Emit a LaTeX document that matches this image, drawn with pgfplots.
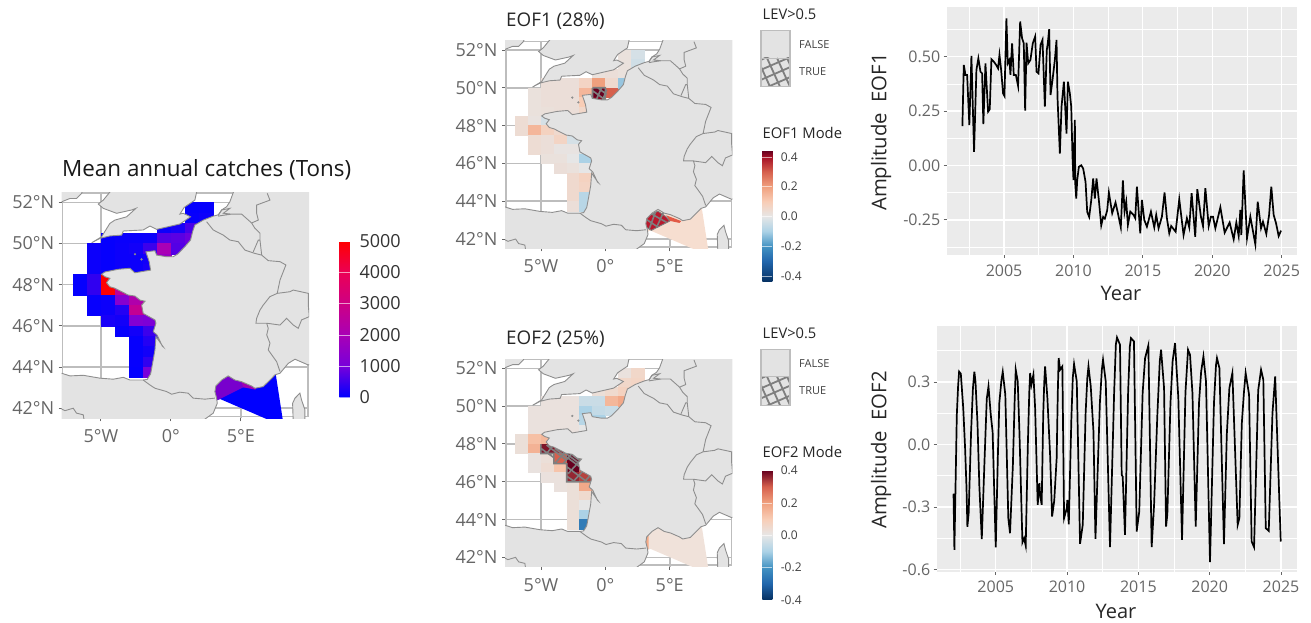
\documentclass[border=0pt]{standalone}
\usepackage{pgfplots}
\usepackage{pgfplotstable}
\usepackage{fontspec}
\setmainfont{Open Sans}
\pgfplotsset{compat=1.18}
\definecolor{landc}{HTML}{E3E3E3}
\definecolor{coast}{HTML}{8E8E8E}
\definecolor{gratic}{HTML}{BDBDBD}
\definecolor{tickc}{HTML}{666666}
\definecolor{hatchc}{HTML}{7F7F7F}
\definecolor{ggbg}{HTML}{EBEBEB}
\pgfplotstableread{
lon lat
-8.3 41.2
-8.3 43.70
-7.81 43.70
-7.21 43.57
-6.26 43.60
-5.07 43.46
-4.12 43.41
-3.40 43.50
-2.93 43.37
-1.98 43.37
-1.69 43.40
-1.45 43.67
-1.31 44.18
-1.14 44.83
-1.07 45.48
-0.55 44.98
-0.62 45.02
-0.98 45.55
-1.26 45.72
-1.07 46.13
-1.14 46.29
-1.98 46.61
-2.09 47.01
-1.85 47.20
-2.20 47.25
-2.57 47.45
-3.05 47.50
-4.00 47.83
-4.36 47.90
-4.60 48.10
-4.36 48.31
-4.71 48.39
-4.95 48.51
-4.71 48.62
-3.76 48.75
-2.93 48.80
-2.57 48.58
-1.45 48.71
-1.55 49.12
-1.79 49.60
-1.14 49.65
-1.02 49.44
-0.31 49.36
0.16 49.36
0.48 49.49
1.00 49.85
1.40 50.17
1.55 50.58
1.71 50.90
2.31 51.14
3.02 51.33
3.40 51.40
3.62 51.63
3.98 51.79
4.21 52.03
4.57 52.70
10.3 52.70
10.3 44.25
9.81 44.10
8.86 44.38
8.38 44.18
7.79 43.70
7.43 43.62
7.07 43.37
6.59 43.05
6.00 42.97
5.76 43.08
5.05 43.29
4.57 43.37
4.09 43.57
3.62 43.37
3.21 43.08
3.14 42.81
3.26 42.49
3.31 42.24
3.02 41.76
2.43 41.47
2.10 41.20
-8.3 41.2
}\tblMain
\pgfplotstableread{
lon lat
-5.66 50.04
-5.07 50.25
-4.36 50.37
-3.52 50.41
-3.40 50.61
-1.98 50.66
-1.50 50.85
-1.02 50.69
0.64 50.95
1.40 51.30
0.88 51.47
0.64 51.43
0.95 51.76
1.36 51.95
1.71 52.11
1.83 52.49
1.90 52.70
-4.12 52.70
-4.83 52.11
-5.19 51.92
-4.83 51.71
-3.88 51.47
-2.81 51.63
-2.50 51.71
-3.16 51.30
-4.00 51.14
-4.36 50.98
-4.95 50.33
-5.66 50.04
}\tblEngland
\pgfplotstableread{
lon lat
-8.3 52.70
-8.3 52.03
-7.80 52.03
-7.21 52.19
-6.74 52.19
-6.38 52.44
-6.20 52.70
-8.3 52.70
}\tblIreland
\pgfplotstableread{
lon lat
8.74 41.20
8.69 42.24
8.86 42.49
9.21 42.73
9.33 42.40
9.57 41.92
9.57 41.20
8.74 41.20
}\tblCorsica
\pgfplotstableread{
lon lat
2.55 51.06
3.02 50.66
3.74 50.41
4.21 50.17
4.81 50.09
5.29 49.68
6.00 49.52
6.48 49.44
6.95 49.17
7.79 49.12
8.21 48.96
7.79 48.23
7.59 47.58
7.07 47.42
6.59 47.01
6.36 46.77
6.12 46.37
6.07 46.13
6.84 46.13
6.95 45.88
6.84 45.56
7.07 45.16
6.95 44.83
7.55 44.26
7.79 43.78
nan nan
6.84 46.13
7.79 46.04
8.26 46.37
8.74 46.04
9.09 45.88
9.33 46.29
9.88 46.45
9.81 47.01
9.81 47.58
8.74 47.74
8.50 47.66
7.59 47.58
nan nan
3.38 51.33
4.21 51.43
5.05 51.43
5.76 51.00
6.00 50.74
6.36 50.50
6.36 50.17
6.24 50.17
5.88 49.60
nan nan
6.36 50.17
6.48 49.44
nan nan
6.88 52.44
7.07 52.11
6.12 51.87
6.12 51.47
6.24 51.14
5.76 51.00
nan nan
-1.98 43.37
-1.50 43.13
-1.14 42.97
-0.31 42.81
0.05 42.68
0.64 42.78
1.24 42.73
1.59 42.49
2.43 42.44
3.14 42.49
nan nan
-7.93 42.00
-7.57 41.88
-6.98 42.00
-6.74 41.76
-6.26 41.68
-6.21 41.47
nan nan
3.38 51.38
3.62 51.63
4.21 51.71
3.74 51.47
4.33 51.43
3.50 51.35
}\tblBorders
\pgfplotstableread{
lon lat
-7.74 41.59
-7.74 52.46
9.80 52.46
9.80 41.59
-7.74 41.59
}\tblFrame
\pgfplotstableread{
lon lat catch e1 e2
-6.5 48.25 40 .04 .03
-6.5 47.75 40 .04 .03
-5.5 49.75 100 .02 .02
-5.5 49.25 100 .02 .02
-5.5 48.75 100 .02 .02
-5.5 48.25 400 .015 .13
-5.5 47.75 400 .15 .16
-5.5 47.25 60 .04 .015
-5.5 46.75 60 .04 .015
-4.5 50.25 50 .03 .02
-4.5 49.75 50 .03 .02
-4.5 49.25 50 .03 .02
-4.5 48.75 50 .025 .02
-4.5 48.25 5000 -.03 .15
-4.5 47.75 5000 .08 .38
-4.5 47.25 100 .03 .03
-4.5 46.75 100 .03 .04
-4.5 46.25 200 .02 .02
-3.5 50.25 80 .03 .02
-3.5 49.75 100 .03 .02
-3.5 49.25 100 .03 .02
-3.5 48.75 100 .03 .02
-3.5 47.75 2500 .05 .36
-3.5 47.25 1300 .07 .30
-3.5 46.75 300 .01 .12
-3.5 46.25 150 .02 .02
-3.5 45.75 50 .03 .02
-2.5 50.25 80 .03 .02
-2.5 49.75 150 .03 .02
-2.5 49.25 100 .03 .02
-2.5 48.75 100 .03 .02
-2.5 47.75 3000 -.03 .42
-2.5 47.25 2200 -.03 .44
-2.5 46.75 2700 .01 .44
-2.5 46.25 1200 .00 .36
-2.5 45.75 150 .02 .03
-2.5 45.25 50 .05 .03
-2.5 44.75 50 .05 .03
-2.5 44.25 50 .05 .03
-2.5 43.75 30 .03 .03
-1.5 50.25 100 .07 -.05
-1.5 49.75 500 .15 -.10
-1.5 49.25 150 .10 -.08
-1.5 48.75 200 .06 .00
-1.5 47.25 2300 .00 .30
-1.5 46.75 2400 -.02 .30
-1.5 46.25 1100 -.10 .33
-1.5 45.75 500 .00 .18
-1.5 45.25 300 .08 .05
-1.5 44.75 150 .07 .00
-1.5 44.25 400 -.08 -.10
-1.5 43.75 1000 -.08 -.25
-0.5 50.75 100 .02 .03
-0.5 50.25 700 .20 -.05
-0.5 49.75 2000 .44 -.06
-0.5 49.25 1700 .42 -.10
0.5 50.75 200 .03 .05
0.5 50.25 750 .05 .15
0.5 49.75 700 .30 -.05
1.5 51.75 30 .02 .02
1.5 51.25 60 .02 .06
1.5 50.75 600 .02 .08
1.5 50.25 900 -.12 .18
2.5 51.75 50 -.03 .06
2.5 51.25 100 -.04 .07
2.5 50.75 500 -.03 .05
}\tblCells
\pgfplotstableread{
lon lat
3.0 43.6
3.0 42.3
3.5 42.45
7.43 41.30
8.02 41.30
7.43 43.9
}\tblMed
\pgfplotstableread{
lon lat
3.0 43.6
3.0 42.3
3.5 42.45
5.17 43.02
6.05 42.95
6.05 43.6
}\tblMedPurple
\pgfplotstableread{
lon lat
4.85 43.6
5.17 43.02
6.05 42.90
6.05 43.6
}\tblMedStrip
\pgfplotstableread{
lon lat
3.05 42.99
3.44 43.25
4.08 43.48
4.73 43.17
4.99 42.95
3.57 42.46
3.13 42.64
3.05 42.99
}\tblMedHatchPoly
\pgfplotstableread{
lon lat
4.73 43.25
5.89 42.95
5.76 42.85
4.95 42.97
}\tblMedRed
\pgfplotstableread{
lon lat
3.05 43.10
4.10 42.62
nan nan
3.40 43.40
4.75 42.88
nan nan
3.40 42.52
3.90 43.45
nan nan
4.00 42.65
4.50 43.40
nan nan
-1.00 50.00
-1.00 49.30
0.00 49.30
0.00 50.00
-1.00 50.00
nan nan
-1.00 49.85
0.00 49.35
nan nan
-0.60 50.00
0.10 49.65
nan nan
-0.75 49.30
-0.30 50.00
nan nan
-0.25 49.30
0.10 49.90
}\tblHatchA
\pgfplotstableread{
lon lat
-5.01 47.99
-5.01 47.49
-4.00 47.49
-4.00 46.96
-3.00 46.96
-3.00 45.99
-1.09 45.99
-1.09 46.25
nan nan
-5.01 47.76
-4.01 47.28
nan nan
-4.57 47.94
-3.00 47.12
nan nan
-3.93 47.76
-1.99 46.79
nan nan
-3.23 47.58
-1.09 46.49
nan nan
-2.56 47.41
-1.09 46.65
nan nan
-3.00 46.79
-1.47 46.01
nan nan
-3.00 46.29
-2.38 46.00
nan nan
-4.57 47.49
-3.93 48.02
nan nan
-3.93 46.96
-2.89 47.76
nan nan
-3.28 46.96
-2.12 47.85
nan nan
-2.89 46.43
-1.34 47.58
nan nan
-2.51 46.00
-1.09 47.05
nan nan
-1.60 46.00
-0.96 46.52
}\tblHatchB
\pgfplotstableread{
lon lat
3.0 43.3
3.0 42.4
3.35 42.45
3.35 43.3
}\tblMedOrange
\pgfplotstableread{
t v
2002.00 .181
2002.10 .462
2002.22 .416
2002.34 .416
2002.50 .186
2002.65 .503
2002.84 .063
2003.01 .439
2003.15 .492
2003.30 .431
2003.42 .423
2003.51 .190
2003.66 .469
2003.85 .247
2003.97 .258
2004.09 .488
2004.26 .477
2004.43 .462
2004.57 .446
2004.67 .508
2004.79 .439
2004.93 .331
2005.03 .319
2005.17 .676
2005.27 .469
2005.39 .485
2005.46 .416
2005.58 .561
2005.70 .416
2005.85 .416
2006.01 .365
2006.16 .661
2006.30 .584
2006.42 .561
2006.52 .252
2006.62 .564
2006.74 .469
2006.90 .485
2007.07 .561
2007.24 .592
2007.34 .431
2007.48 .423
2007.63 .554
2007.77 .577
2007.94 .270
2008.08 .531
2008.15 .561
2008.25 .626
2008.35 .324
2008.49 .393
2008.66 .485
2008.78 .577
2008.85 .313
2009.02 .055
2009.14 .270
2009.31 .385
2009.50 .147
2009.60 .385
2009.74 .331
2009.84 .270
2009.93 .040
2010.00 -.067
2010.10 .209
2010.13 -.083
2010.20 -.152
2010.27 -.067
2010.39 -.006
2010.56 .001
2010.70 -.014
2010.87 -.075
2010.99 -.213
2011.13 -.236
2011.28 -.160
2011.42 -.060
2011.54 -.152
2011.66 -.060
2011.83 -.160
2012.00 -.275
2012.14 -.236
2012.26 -.244
2012.43 -.206
2012.55 -.124
2012.79 -.219
2013.03 -.170
2013.20 -.219
2013.41 -.284
2013.56 -.069
2013.68 -.212
2013.80 -.166
2013.92 -.273
2014.09 -.212
2014.33 -.227
2014.45 -.242
2014.57 -.097
2014.81 -.311
2014.93 -.158
2015.10 -.250
2015.29 -.281
2015.58 -.212
2015.82 -.284
2015.96 -.227
2016.13 -.288
2016.37 -.235
2016.56 -.124
2016.73 -.242
2016.90 -.311
2017.04 -.278
2017.36 -.304
2017.62 -.155
2017.93 -.319
2018.17 -.242
2018.34 -.284
2018.51 -.127
2018.77 -.327
2018.92 -.109
2019.18 -.235
2019.33 -.278
2019.50 -.104
2019.74 -.278
2019.90 -.235
2020.05 -.235
2020.22 -.288
2020.58 -.192
2020.89 -.308
2021.25 -.262
2021.54 -.339
2021.73 -.262
2021.90 -.324
2022.02 -.204
2022.09 -.319
2022.26 -.023
2022.50 -.334
2022.74 -.235
2023.10 -.362
2023.27 -.166
2023.51 -.288
2023.65 -.258
2023.89 -.314
2024.09 -.227
2024.25 -.097
2024.42 -.227
2024.59 -.265
2024.78 -.324
2024.95 -.299
}\tblEOFa
\pgfplotstableread{
t v
2002.00 -.240
2002.04 -.240
2002.10 -.506
2002.27 .143
2002.36 .280
2002.43 .350
2002.55 .340
2002.72 .175
2002.85 -.017
2002.95 -.210
2003.01 -.395
2003.10 -.330
2003.27 .060
2003.40 .270
2003.50 .350
2003.58 .300
2003.72 .100
2003.85 -.200
2004.02 -.454
2004.20 -.100
2004.37 .220
2004.49 .279
2004.65 .143
2004.78 .060
2005.00 -.494
2005.15 -.050
2005.25 .200
2005.40 .310
2005.49 .349
2005.67 .239
2005.88 -.353
2006.00 -.426
2006.20 -.100
2006.32 .200
2006.40 .359
2006.54 .303
2006.66 .060
2006.87 -.470
2006.99 -.450
2007.10 -.486
2007.25 .000
2007.35 .250
2007.41 .343
2007.50 .287
2007.64 .335
2007.76 .175
2007.94 -.290
2008.06 -.186
2008.11 -.242
2008.22 -.290
2008.33 .150
2008.40 .300
2008.46 .375
2008.62 .223
2008.81 -.050
2008.95 -.346
2009.10 -.270
2009.27 -.066
2009.35 .250
2009.41 .415
2009.51 .359
2009.67 .375
2009.79 -.354
2009.98 -.306
2010.02 -.266
2010.12 -.383
2010.30 .120
2010.40 .320
2010.49 .386
2010.68 .303
2010.91 -.477
2011.10 -.386
2011.30 .150
2011.42 .320
2011.50 .375
2011.66 .279
2011.85 .062
2011.99 -.453
2012.30 .200
2012.44 .360
2012.52 .407
2012.71 .303
2013.01 -.493
2013.30 .250
2013.42 .480
2013.50 .514
2013.71 .479
2013.83 -.146
2013.90 -.154
2014.06 -.434
2014.28 .250
2014.40 .470
2014.48 .511
2014.69 .495
2014.88 -.418
2015.06 -.322
2015.30 .250
2015.47 .415
2015.70 .476
2015.93 -.493
2016.10 -.290
2016.33 .143
2016.50 .400
2016.59 .455
2016.80 .271
2016.94 -.394
2017.03 -.335
2017.25 .200
2017.40 .400
2017.57 .487
2017.80 .223
2018.06 -.458
2018.30 .250
2018.48 .455
2018.62 .431
2018.79 .247
2019.02 -.394
2019.25 .200
2019.40 .350
2019.56 .423
2019.74 .303
2020.02 -.565
2020.30 .200
2020.44 .380
2020.51 .415
2020.68 .367
2021.00 -.479
2021.20 .050
2021.38 .271
2021.59 .343
2021.96 -.386
2022.08 -.354
2022.25 .100
2022.40 .250
2022.52 .343
2022.76 .239
2022.94 -.466
2023.11 -.493
2023.40 .260
2023.60 .359
2023.76 .311
2023.93 -.402
2024.14 -.415
2024.40 .150
2024.59 .327
2024.98 -.466
}\tblEOFb
\pgfdeclareplotmark{cellA}{\pgfpathrectangle{\pgfpoint{-7pt}{-5.15pt}}{\pgfpoint{14pt}{10.3pt}}\pgfusepathqfillstroke}
\pgfdeclareplotmark{cellB}{\pgfpathrectangle{\pgfpoint{-6.45pt}{-4.72pt}}{\pgfpoint{12.9pt}{9.44pt}}\pgfusepathqfillstroke}
\pgfplotsset{
 colormap={bluered}{rgb255(0pt)=(0,0,255); rgb255(1pt)=(120,0,218); rgb255(2pt)=(169,0,181); rgb255(3pt)=(206,0,132); rgb255(4pt)=(235,0,85); rgb255(5pt)=(255,0,0)},
 colormap={rdbua}{rgb255(0pt)=(5,48,97); rgb255(14pt)=(33,102,172); rgb255(24pt)=(67,147,195); rgb255(34pt)=(172,210,230); rgb255(44pt)=(230,230,230); rgb255(54pt)=(248,205,182); rgb255(64pt)=(240,160,126); rgb255(74pt)=(214,96,77); rgb255(84pt)=(165,15,37); rgb255(88pt)=(103,0,31)},
 colormap={rdbub}{rgb255(0pt)=(5,48,97); rgb255(10pt)=(33,102,172); rgb255(20pt)=(67,147,195); rgb255(30pt)=(172,210,230); rgb255(40pt)=(230,230,230); rgb255(50pt)=(248,205,182); rgb255(60pt)=(240,160,126); rgb255(70pt)=(214,96,77); rgb255(80pt)=(103,0,31)},
 maplimits/.style={scale only axis, anchor=north west, xmin=-7.8, xmax=9.86, ymin=41.51, ymax=52.49, unbounded coords=jump},
 mapaxis/.style={maplimits,
  xtick={-5,0,5}, xticklabels={5°W,0°,5°E}, ytick={42,44,46,48,50,52},
  yticklabels={42°N,44°N,46°N,48°N,50°N,52°N},
  xtick pos=bottom, ytick pos=left, tick align=outside, major tick length=3pt,
  tick style={draw=tickc, line width=.9pt},
  grid=major, grid style={line width=1.5pt, draw=gratic},
  axis line style={draw=none},
  tick label style={font=\fontsize{18}{18}\selectfont, text=tickc},
  xticklabel style={yshift=-5pt}, yticklabel style={xshift=-1pt}},
 cbar/.style={colorbar style={scale only axis, axis line style={draw=none},
  tick align=inside, ytick pos=right, yticklabel pos=right,
  /pgf/number format/assume math mode=true, /pgf/number format/1000 sep={},
  tick style={draw=white, draw opacity=.6, line width=.5pt}, major tick length=#1}},
 tsaxis/.style={scale only axis, anchor=north west, axis background/.style={fill=ggbg},
  xmin=2000.87, xmax=2026.08, xtick={2005,2010,2015,2020,2025},
  minor xtick={2002.5,2007.5,2012.5,2017.5,2022.5},
  xtick pos=bottom, ytick pos=left, tick align=outside, major tick length=3pt, minor tick length=0pt,
  tick style={draw=tickc, line width=.9pt},
  axis line style={draw=none},
  grid=both, major grid style={draw=white, line width=1.2pt}, minor grid style={draw=white, line width=.6pt},
  tick label style={font=\fontsize{16}{16}\selectfont, text=tickc},
  xticklabel style={yshift=-3pt},
  /pgf/number format/assume math mode=true, /pgf/number format/1000 sep={},
  /pgf/number format/fixed}
}
\newcommand{\landlayers}{%
 \addplot[fill=landc, draw=coast, line width=.9pt] table[x=lon,y=lat] {\tblMain};
 \addplot[fill=landc, draw=coast, line width=.9pt] table[x=lon,y=lat] {\tblEngland};
 \addplot[fill=landc, draw=coast, line width=.9pt] table[x=lon,y=lat] {\tblIreland};
 \addplot[fill=landc, draw=coast, line width=.9pt] table[x=lon,y=lat] {\tblCorsica};
 \addplot[draw=coast, line width=.9pt] table[x=lon,y=lat] {\tblBorders};
 \addplot[only marks, mark=*, mark size=.9pt, mark options={draw=coast, fill=coast}] coordinates {(-2.57,49.48) (-2.10,49.23)};
}
\newcommand{\framelayer}{\addplot[draw=gratic, line width=1.5pt] table[x=lon,y=lat] {\tblFrame};}
\begin{document}
\begin{tikzpicture}
\path[use as bounding box] (0,0) rectangle (1311pt,-623pt);
%% --- catches map
\begin{axis}[mapaxis, at={(61.7pt,-192.3pt)}, width=247.3pt, height=226pt,
  colormap name=bluered, point meta min=0, point meta max=5000,
  colorbar, cbar=10.7pt,
  colorbar style={at={(1.1225,0.0929)}, anchor=south west, width=10.7pt, height=156.3pt,
   ytick={0,1000,2000,3000,4000,5000},
   yticklabel style={font=\fontsize{18}{18}\selectfont, text=black!80, xshift=6pt}}]
 \framelayer
 \addplot[fill=blue, draw=none] table[x=lon,y=lat] {\tblMed};
 \addplot[fill={rgb,255:red,120;green,0;blue,205}, draw=none] table[x=lon,y=lat] {\tblMedPurple};
 \addplot[fill={rgb,255:red,160;green,0;blue,178}, draw=none] table[x=lon,y=lat] {\tblMedStrip};
 \addplot[scatter, only marks, mark=cellA, scatter src=explicit, line width=.3pt,
   scatter/use mapped color={draw=mapped color, fill=mapped color}]
   table[x=lon,y=lat,meta=catch] {\tblCells};
\end{axis}
\begin{axis}[maplimits, hide axis, at={(61.7pt,-192.3pt)}, width=247.3pt, height=226pt]
 \landlayers
\end{axis}
%% --- EOF1 map
\begin{axis}[mapaxis, at={(505pt,-40.7pt)}, width=227.3pt, height=207.6pt,
  colormap name=rdbua, point meta min=-.44, point meta max=.44,
  colorbar, cbar=10pt,
  colorbar style={at={(1.132,-0.162)}, anchor=south west, width=10pt, height=131pt,
   ytick={-.4,-.2,0,.2,.4},
   /pgf/number format/fixed, /pgf/number format/fixed zerofill, /pgf/number format/precision=1,
   yticklabel style={font=\fontsize{12}{12}\selectfont, text=black!75, xshift=5pt}}]
 \framelayer
 \addplot[fill={rgb,255:red,246;green,222;blue,208}, draw=none] table[x=lon,y=lat] {\tblMed};
 \addplot[fill={rgb,255:red,226;green,90;blue,70}, draw=none] table[x=lon,y=lat] {\tblMedRed};
 \addplot[fill={rgb,255:red,185;green,25;blue,45}, draw=none] table[x=lon,y=lat] {\tblMedHatchPoly};
 \addplot[scatter, only marks, mark=cellB, scatter src=explicit, line width=.3pt,
   scatter/use mapped color={draw=mapped color, fill=mapped color}]
   table[x=lon,y=lat,meta=e1] {\tblCells};
\end{axis}
\begin{axis}[maplimits, hide axis, at={(505pt,-40.7pt)}, width=227.3pt, height=207.6pt]
 \addplot[draw=hatchc, line width=.9pt] table[x=lon,y=lat] {\tblMedHatchPoly};
 \addplot[draw=hatchc, line width=1.6pt] table[x=lon,y=lat] {\tblHatchA};
 \landlayers
\end{axis}
%% --- EOF2 map
\begin{axis}[mapaxis, at={(505pt,-359pt)}, width=227.3pt, height=207.6pt,
  colormap name=rdbub, point meta min=-.4, point meta max=.4,
  colorbar, cbar=10pt,
  colorbar style={at={(1.132,-0.16)}, anchor=south west, width=10pt, height=129.3pt,
   ytick={-.4,-.2,0,.2,.4},
   /pgf/number format/fixed, /pgf/number format/fixed zerofill, /pgf/number format/precision=1,
   yticklabel style={font=\fontsize{12}{12}\selectfont, text=black!75, xshift=5pt}}]
 \framelayer
 \addplot[fill={rgb,255:red,240;green,226;blue,218}, draw=none] table[x=lon,y=lat] {\tblMed};
 \addplot[fill={rgb,255:red,245;green,170;blue,135}, draw=none] table[x=lon,y=lat] {\tblMedOrange};
 \addplot[scatter, only marks, mark=cellB, scatter src=explicit, line width=.3pt,
   scatter/use mapped color={draw=mapped color, fill=mapped color}]
   table[x=lon,y=lat,meta=e2] {\tblCells};
\end{axis}
\begin{axis}[maplimits, hide axis, at={(505pt,-359pt)}, width=227.3pt, height=207.6pt]
 \addplot[draw=hatchc, line width=1.6pt] table[x=lon,y=lat] {\tblHatchB};
 \landlayers
\end{axis}
%% --- time series 1
\begin{axis}[tsaxis, at={(946.7pt,-7.3pt)}, width=350pt, height=247.7pt,
  ymin=-.411, ymax=.7265, ytick={-.25,0,.25,.5},
  minor ytick={-.375,-.125,.125,.375,.625},
  yticklabels={-0.25,0.00,0.25,0.50}]
 \addplot[draw=black, line width=1.7pt] table[x=t,y=v] {\tblEOFa};
\end{axis}
%% --- time series 2
\begin{axis}[tsaxis, at={(936.7pt,-326pt)}, width=360pt, height=245.7pt,
  xmin=2000.86, xmax=2026.1,
  ymin=-.611, ymax=.569, ytick={-.6,-.3,0,.3},
  minor ytick={-.45,-.15,.15,.45},
  yticklabels={-0.6,-0.3,0.0,0.3}]
 \addplot[draw=black, line width=1.7pt] table[x=t,y=v] {\tblEOFb};
\end{axis}
%% --- titles and labels
\node[anchor=west, inner sep=0pt, font=\fontsize{22.4}{22.4}\selectfont, text=black!90] at (62pt,-169.5pt) {Mean annual catches (Tons)};
\node[anchor=west, inner sep=0pt, font=\fontsize{18.8}{18.8}\selectfont, text=black!85] at (506pt,-20.7pt) {EOF1 (28\%)};
\node[anchor=west, inner sep=0pt, font=\fontsize{18.8}{18.8}\selectfont, text=black!85] at (506pt,-339pt) {EOF2 (25\%)};
\node[font=\fontsize{20}{20}\selectfont, text=black!85] at (1121pt,-293pt) {Year};
\node[font=\fontsize{20}{20}\selectfont, text=black!85] at (1116pt,-611.5pt) {Year};
\node[rotate=90, font=\fontsize{20.3}{20.3}\selectfont, text=black!85] at (881pt,-132pt) {Amplitude\ \ EOF1};
\node[rotate=90, font=\fontsize{20.3}{20.3}\selectfont, text=black!85] at (881pt,-450pt) {Amplitude\ \ EOF2};
%% --- legends
\foreach \yo/\lab in {0/EOF1, 318.5/EOF2} {
 \node[anchor=west, inner sep=0pt, font=\fontsize{14.7}{14.7}\selectfont, text=black!85] at (762.5pt,{-14.5pt-\yo pt}) {LEV>0.5};
 \node[anchor=west, inner sep=0pt, font=\fontsize{14.8}{14.8}\selectfont, text=black!85] at (762.5pt,{-133pt-\yo pt}) {\lab\ Mode};
 \node[anchor=west, inner sep=0pt, font=\fontsize{11}{11}\selectfont, text=black!75] at (799pt,{-45pt-\yo pt}) {FALSE};
 \node[anchor=west, inner sep=0pt, font=\fontsize{11}{11}\selectfont, text=black!75] at (799pt,{-72pt-\yo pt}) {TRUE};
 \fill[landc] (761pt,{-30.7pt-\yo pt}) rectangle (790pt,{-86.7pt-\yo pt});
 \begin{scope}
  \clip (761pt,{-58pt-\yo pt}) rectangle (790pt,{-86.7pt-\yo pt});
  \foreach \d in {-14,-4,6,16,26} {
   \draw[hatchc, line width=1.8pt] ({761pt+\d pt},{-58pt-\yo pt}) -- ({761pt+\d pt+13pt},{-86.7pt-\yo pt});
  }
  \foreach \d in {-10,0,10,20,30,40} {
   \draw[hatchc, line width=1.8pt] (756pt,{-62pt-\d pt-\yo pt}) -- (795pt,{-45pt-\d pt-\yo pt});
  }
 \end{scope}
 \draw[gratic, line width=1.1pt] (761pt,{-30.7pt-\yo pt}) rectangle (790pt,{-86.7pt-\yo pt});
 \draw[gratic, line width=.7pt] (761pt,{-58pt-\yo pt}) -- (790pt,{-58pt-\yo pt});
}
\end{tikzpicture}
\end{document}
